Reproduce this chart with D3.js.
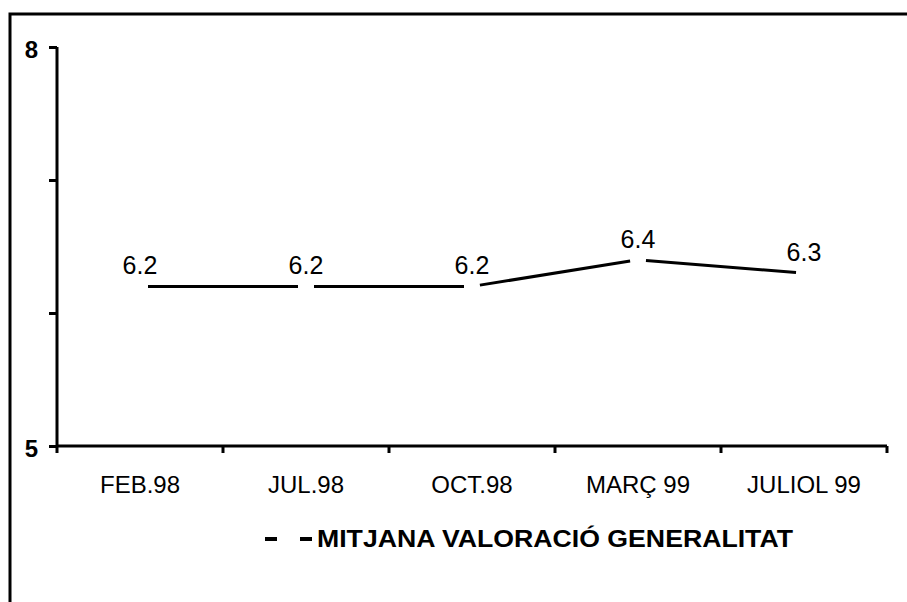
<!DOCTYPE html>
<html>
<head>
<meta charset="utf-8">
<script src="https://cdn.jsdelivr.net/npm/d3@7"></script>
<style>
  body { margin: 0; background: #fff; }
  svg { display: block; }
  text { font-family: "Liberation Sans", Arial, sans-serif; fill: #000; }
</style>
</head>
<body>
<svg id="chart" width="907" height="602"></svg>
<script>
// Dates of the survey
var periods = ['FEB.98', 'JUL.98', 'OCT.98', 'MARÇ 99', 'JULIOL 99'];
// Average rating
var valoracio = [6.2, 6.2, 6.2, 6.4, 6.3];
// Y axis
var yTicks = [5, 6, 7, 8];
var yLabels = [5, 8];
var seriesName = 'MITJANA VALORACIÓ GENERALITAT';

var svg = d3.select('#chart');

// outer frame (right and bottom fall outside the picture)
svg.append('rect')
   .attr('x', 10).attr('y', 14)
   .attr('width', 920).attr('height', 620)
   .attr('fill', 'none')
   .attr('stroke', '#000')
   .attr('stroke-width', 3);

var plotLeft = 57, plotRight = 887, plotTop = 47, plotBottom = 446;

var x = d3.scaleBand().domain(periods).range([plotLeft, plotRight]);
var y = d3.scaleLinear().domain([5, 8]).range([plotBottom, plotTop]);

// y axis
var yAxis = svg.append('g')
  .attr('transform', 'translate(' + plotLeft + ',0)')
  .call(d3.axisLeft(y)
    .tickValues(yTicks)
    .tickSize(8)
    .tickPadding(11)
    .tickFormat(function(d) { return yLabels.indexOf(d) >= 0 ? d : ''; }));
yAxis.select('.domain').attr('d', 'M0,' + plotTop + 'V' + plotBottom).attr('stroke-width', 3);
yAxis.selectAll('.tick line').attr('stroke-width', 3);
yAxis.selectAll('.tick text')
     .style('font-family', '"Liberation Sans", Arial, sans-serif')
     .style('font-size', '24px')
     .style('font-weight', 'bold')
     .attr('dy', '0.45em');

// x axis: labels at band centres
var xAxis = svg.append('g')
  .attr('transform', 'translate(0,' + plotBottom + ')')
  .call(d3.axisBottom(x).tickSize(0).tickPadding(30));
xAxis.select('.domain').attr('d', 'M' + plotLeft + ',0H' + plotRight).attr('stroke-width', 3);
xAxis.selectAll('.tick text')
     .style('font-family', '"Liberation Sans", Arial, sans-serif')
     .style('font-size', '24px');

// x ticks on the band borders
var borders = periods.map(function(d) { return x(d); }).concat([x(periods[periods.length - 1]) + x.bandwidth()]);
xAxis.selectAll('line.border')
     .data(borders)
     .enter()
     .append('line')
     .attr('class', 'border')
     .attr('x1', function(d) { return d; })
     .attr('x2', function(d) { return d; })
     .attr('y1', 0)
     .attr('y2', 7)
     .attr('stroke', '#000')
     .attr('stroke-width', 3);

// line points
var pts = periods.map(function(d, i) {
  return { label: d, v: valoracio[i], px: x(d) + x.bandwidth() / 2, py: y(valoracio[i]) };
});

// segments leave a small gap at every point
var gap = 8;
var segs = d3.pairs(pts).map(function(p) {
  var a = p[0], b = p[1];
  var dx = b.px - a.px, dy = b.py - a.py, len = Math.sqrt(dx * dx + dy * dy);
  var ux = dx / len, uy = dy / len;
  return { x1: a.px + ux * gap, y1: a.py + uy * gap, x2: b.px - ux * gap, y2: b.py - uy * gap };
});

svg.selectAll('line.seg')
   .data(segs)
   .enter()
   .append('line')
   .attr('class', 'seg')
   .attr('x1', function(d) { return d.x1; })
   .attr('y1', function(d) { return d.y1; })
   .attr('x2', function(d) { return d.x2; })
   .attr('y2', function(d) { return d.y2; })
   .attr('stroke', '#000')
   .attr('stroke-width', 3);

// value labels
svg.selectAll('text.val')
   .data(pts)
   .enter()
   .append('text')
   .attr('class', 'val')
   .attr('x', function(d) { return d.px; })
   .attr('y', function(d) { return d.py - 12; })
   .attr('text-anchor', 'middle')
   .style('font-size', '25px')
   .text(function(d) { return d.v.toFixed(1); });

// legend
var lg = svg.append('g');
lg.selectAll('line')
  .data([265, 300])
  .enter()
  .append('line')
  .attr('x1', function(d) { return d; })
  .attr('x2', function(d) { return d + 12; })
  .attr('y1', 539)
  .attr('y2', 539)
  .attr('stroke', '#000')
  .attr('stroke-width', 4);
lg.append('text')
  .attr('x', 317)
  .attr('y', 547)
  .attr('textLength', 476)
  .attr('lengthAdjust', 'spacingAndGlyphs')
  .style('font-size', '23px')
  .style('font-weight', 'bold')
  .text(seriesName);
</script>
</body>
</html>
